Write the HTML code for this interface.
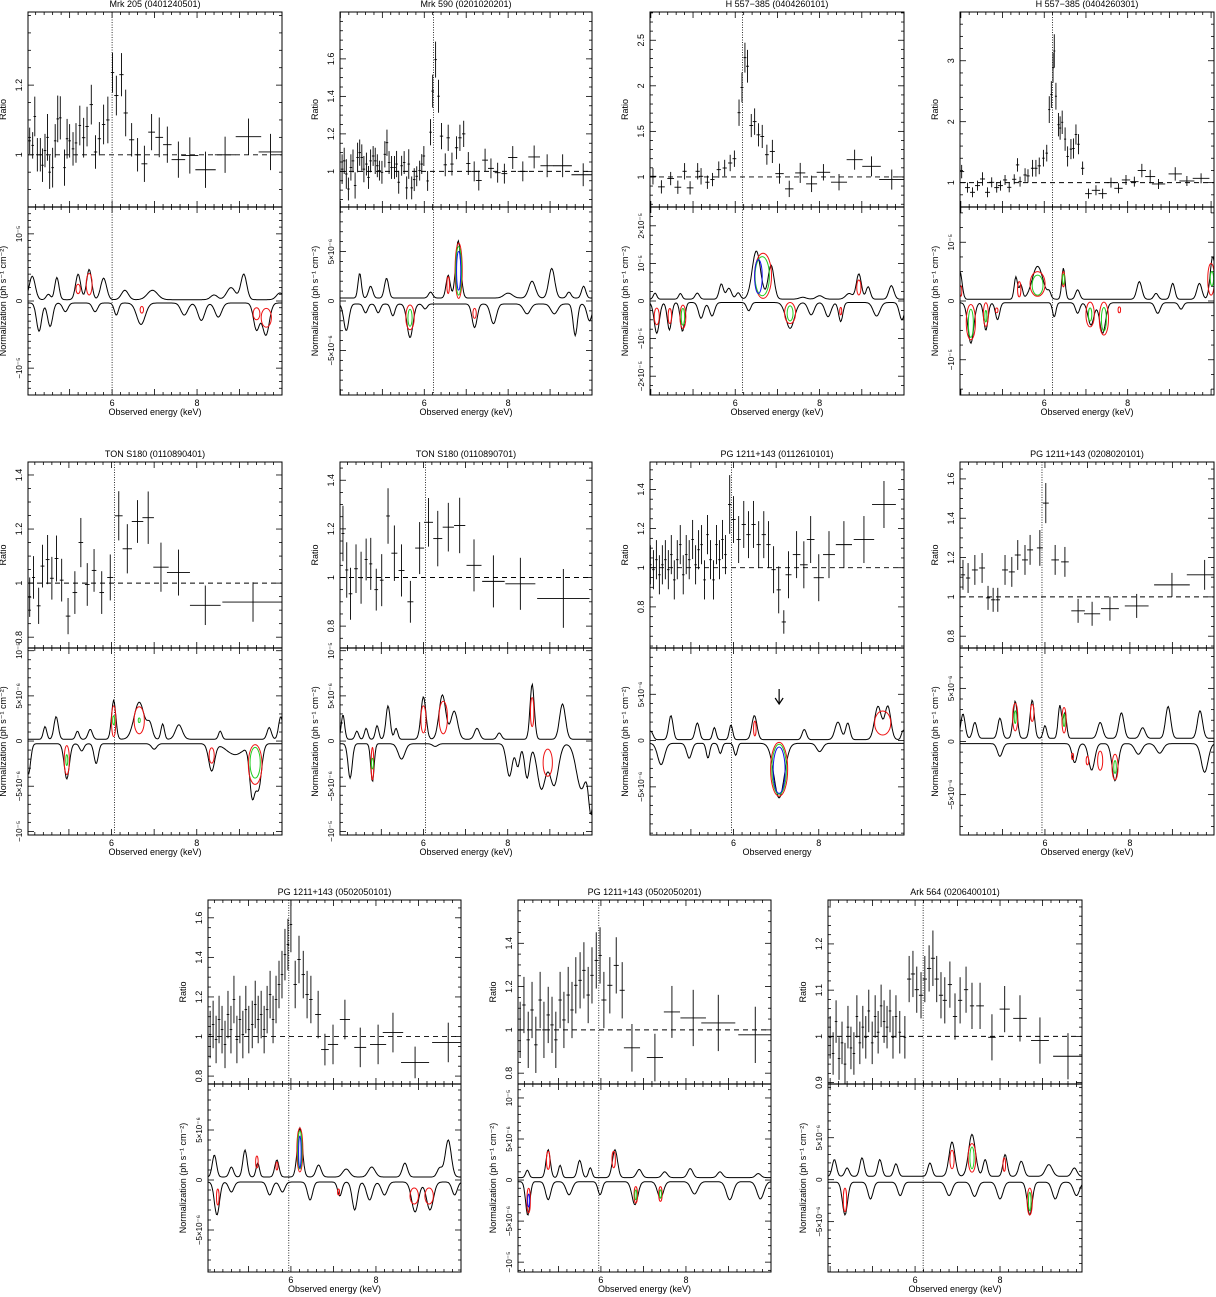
<!DOCTYPE html>
<html>
<head>
<meta charset="utf-8">
<style>
html,body{margin:0;padding:0;background:#fff;}
svg{display:block;font-family:"Liberation Sans",Arial,sans-serif;}
</style>
</head>
<body>
<svg id="fig" width="1216" height="1297" viewBox="0 0 1216 1297" xmlns="http://www.w3.org/2000/svg"></svg>
<script>
// ---------------- DATA ----------------
const titles = ["Mrk 205 (0401240501)","Mrk 590 (0201020201)","H 557\u2212385 (0404260101)","H 557\u2212385 (0404260301)",
"TON S180 (0110890401)","TON S180 (0110890701)","PG 1211+143 (0112610101)","PG 1211+143 (0208020101)",
"PG 1211+143 (0502050101)","PG 1211+143 (0502050201)","Ark 564 (0206400101)"];
const xLabels = ["Observed energy (keV)","Observed energy (keV)","Observed energy (keV)","Observed energy (keV)",
"Observed energy (keV)","Observed energy (keV)","Observed energy","Observed energy (keV)",
"Observed energy (keV)","Observed energy (keV)","Observed energy (keV)"];
const energyRanges = [[4.02,10.0],[3.99,10.0],[3.98,10.0],[3.98,10.07],[4.04,10.0],[4.02,10.0],[4.04,10.0],[4.0,9.98],[4.05,10.0],[4.05,10.0],[3.95,9.93]];
const energyTicks = [6,8];
const lineEnergies = [6.0,6.22,6.17,6.2,6.07,6.05,5.95,5.93,5.95,5.95,6.19];
const ratioRanges = [[0.85,1.41],[0.81,1.85],[0.67,2.81],[0.6,3.8],[0.76,1.448],[0.71,1.475],[0.59,1.54],[0.74,1.686],[0.76,1.69],[0.75,1.6],[0.897,1.295]];
const ratioTicks = [[1,1.2],[1,1.2,1.4,1.6],[1,1.5,2,2.5],[1,2,3],[0.8,1,1.2,1.4],[0.8,1,1.2,1.4],[0.8,1,1.2,1.4],[0.8,1,1.2,1.4,1.6],[0.8,1,1.2,1.4,1.6],[0.8,1,1.2,1.4],[0.9,1,1.1,1.2]];
const ratioMinor = [0.05,0.05,0.1,0.2,0.05,0.05,0.05,0.05,0.05,0.05,0.02];
const normRanges = [[-14,14],[-9.5,9.5],[-25,25],[-16,16],[-10.4,10.3],[-10.4,10.3],[-10.2,10],[-8.8,8.8],[-9.2,9.6],[-11.2,11.7],[-11,11.4]];
const normTickValues = [[10,0,-10],[5,0,-5],[20,10,0,-10,-20],[10,0,-10],[10,5,0,-5,-10],[10,5,0,-5,-10],[5,0,-5],[5,0,-5],[5,0,-5],[10,5,0,-5,-10],[5,0,-5]];
const normTickText = {"20":"2\u00d710\u207b\u2075","10":"10\u207b\u2075","5":"5\u00d710\u207b\u2076","0":"0","-5":"\u22125\u00d710\u207b\u2076","-10":"\u221210\u207b\u2075","-20":"\u22122\u00d710\u207b\u2075"};

// ratio points [E, ratio, dE, dRatio]
const points1 = [[4.06,1.04,.03,.038],[4.13,1.027,.03,.038],[4.18,1.11,.03,.057],[4.24,1.0,.03,.048],[4.31,1.0,.03,.048],[4.36,.97,.03,.048],[4.42,1.012,.03,.048],[4.48,1.05,.03,.067],[4.53,.95,.03,.048],[4.6,.963,.03,.057],[4.66,1.04,.03,.048],[4.72,1.103,.03,.067],[4.78,1.106,.03,.062],[4.88,.963,.03,.052],[4.94,1.046,.03,.057],[5.0,1.04,.03,.048],[5.08,1.017,.03,.048],[5.15,1.034,.03,.057],[5.24,1.084,.03,.057],[5.33,1.049,.04,.057],[5.41,1.081,.04,.057],[5.51,1.144,.04,.057],[5.61,1.008,.04,.048],[5.7,1.046,.04,.048],[5.8,1.087,.04,.057],[5.9,1.1,.04,.067],[6.01,1.236,.04,.057],[6.1,1.17,.05,.057],[6.22,1.23,.05,.062],[6.32,1.12,.05,.067],[6.46,1.043,.06,.048],[6.6,1.0,.07,.048],[6.76,.974,.07,.052],[6.93,1.065,.08,.052],[7.11,1.05,.09,.057],[7.3,1.029,.1,.052],[7.56,.986,.16,.052],[7.83,.998,.2,.052],[8.2,.957,.24,.052],[8.66,1.0,.24,.052],[9.21,1.052,.3,.052],[9.73,1.008,.28,.052]];
const points2 = [[4.04,1.012,.03,.079],[4.09,1.056,.03,.07],[4.14,.986,.03,.079],[4.19,.906,.03,.061],[4.25,1.021,.03,.07],[4.3,1.056,.03,.061],[4.35,.925,.03,.07],[4.41,1.074,.03,.079],[4.46,1.1,.03,.07],[4.51,1.074,.03,.07],[4.56,1.012,.03,.07],[4.62,1.039,.03,.061],[4.67,.968,.03,.061],[4.72,1.056,.03,.061],[4.78,1.082,.03,.053],[4.83,1.056,.03,.07],[4.88,1.03,.03,.061],[4.93,1.004,.03,.053],[4.99,.995,.03,.061],[5.06,1.091,.03,.07],[5.11,1.153,.03,.07],[5.16,1.047,.03,.061],[5.22,1.021,.03,.061],[5.29,1.021,.03,.061],[5.34,1.039,.03,.07],[5.39,.942,.03,.061],[5.46,1.03,.03,.053],[5.52,1.047,.03,.061],[5.58,.912,.03,.061],[5.63,1.039,.03,.079],[5.7,.912,.03,.061],[5.76,.956,.03,.061],[5.82,.974,.03,.053],[5.89,1.004,.03,.053],[5.94,1.039,.03,.053],[5.99,1.082,.03,.053],[6.08,.949,.03,.053],[6.15,1.209,.03,.07],[6.2,1.428,.03,.088],[6.27,1.596,.03,.096],[6.34,1.401,.03,.088],[6.41,1.188,.04,.07],[6.5,1.035,.04,.061],[6.57,1.179,.04,.07],[6.66,1.039,.04,.061],[6.77,1.126,.04,.061],[6.85,1.179,.04,.07],[6.94,1.2,.04,.07],[7.05,1.042,.05,.061],[7.19,1.0,.07,.053],[7.3,.951,.07,.053],[7.45,1.06,.07,.061],[7.59,1.016,.07,.053],[7.75,.993,.07,.053],[7.91,.988,.07,.053],[8.11,1.074,.11,.061],[8.35,1.0,.12,.053],[8.62,1.077,.14,.061],[8.93,1.03,.16,.061],[9.3,1.03,.22,.061],[9.79,.982,.28,.061]];
const points3 = [[4.05,1.007,.08,.09],[4.25,.891,.08,.073],[4.47,.982,.08,.073],[4.64,.887,.08,.073],[4.8,1.062,.05,.09],[4.93,.88,.08,.073],[5.11,1.062,.05,.09],[5.19,1.007,.05,.09],[5.34,.942,.05,.073],[5.46,.971,.05,.073],[5.61,1.08,.05,.09],[5.75,1.098,.05,.09],[5.88,1.153,.05,.09],[5.98,1.2,.045,.09],[6.09,1.705,.035,.145],[6.16,1.982,.035,.164],[6.23,2.309,.035,.164],[6.29,2.215,.035,.18],[6.38,1.564,.045,.127],[6.46,1.607,.045,.145],[6.55,1.462,.045,.127],[6.64,1.444,.045,.127],[6.75,1.244,.045,.11],[6.88,1.28,.06,.127],[7.05,1.036,.1,.11],[7.28,.869,.1,.09],[7.54,1.044,.12,.11],[7.81,.924,.13,.09],[8.09,1.051,.16,.09],[8.46,.942,.19,.09],[8.83,1.189,.19,.11],[9.23,1.116,.22,.11],[9.71,.971,.3,.11]];
const points4 = [[4.02,1.181,.06,.11],[4.16,.918,.06,.082],[4.28,.841,.06,.082],[4.4,.951,.06,.082],[4.52,1.06,.06,.11],[4.64,.841,.06,.082],[4.74,1.005,.06,.082],[4.86,.918,.06,.082],[4.95,.951,.06,.082],[5.06,1.044,.05,.082],[5.16,.923,.05,.082],[5.28,1.055,.05,.082],[5.36,1.291,.04,.11],[5.42,1.016,.04,.082],[5.54,1.126,.04,.11],[5.61,1.11,.04,.11],[5.72,1.236,.04,.137],[5.8,1.236,.04,.137],[5.88,1.275,.04,.137],[5.98,1.401,.03,.137],[6.06,1.484,.03,.137],[6.12,2.198,.025,.22],[6.17,2.445,.025,.22],[6.21,2.885,.025,.247],[6.24,3.16,.025,.275],[6.28,2.418,.025,.22],[6.34,1.951,.025,.192],[6.38,1.896,.025,.192],[6.43,1.99,.025,.192],[6.5,1.714,.025,.192],[6.56,1.43,.03,.165],[6.64,1.55,.03,.165],[6.7,1.56,.03,.165],[6.76,1.79,.03,.165],[6.82,1.63,.03,.165],[6.92,1.236,.04,.11],[7.06,.819,.08,.082],[7.24,.874,.1,.082],[7.4,.819,.1,.082],[7.6,1.0,.1,.082],[7.78,.907,.1,.082],[7.96,1.044,.1,.082],[8.16,1.016,.1,.082],[8.34,1.198,.1,.11],[8.54,1.099,.12,.11],[8.74,.978,.16,.082],[9.14,1.143,.16,.11],[9.42,1.027,.18,.082],[9.76,1.071,.2,.082]];
const points5 = [[4.08,.948,.036,.073],[4.17,1.021,.036,.079],[4.29,.916,.045,.067],[4.38,1.063,.045,.079],[4.5,1.087,.045,.091],[4.6,1.018,.045,.079],[4.71,1.091,.045,.085],[4.83,1.011,.045,.079],[4.98,.878,.054,.067],[5.14,.965,.054,.079],[5.28,1.15,.054,.091],[5.43,.995,.054,.079],[5.59,1.047,.054,.079],[5.77,.965,.054,.079],[5.97,1.021,.072,.085],[6.17,1.249,.09,.091],[6.37,1.127,.11,.091],[6.61,1.228,.135,.079],[6.86,1.242,.135,.097],[7.16,1.059,.18,.091],[7.57,1.039,.27,.085],[8.2,.918,.36,.073],[9.32,.93,.72,.073]];
const points6 = [[4.09,1.181,.036,.114],[4.18,1.031,.036,.114],[4.27,.933,.044,.107],[4.4,1.036,.044,.1],[4.52,.999,.044,.107],[4.64,1.074,.036,.086],[4.75,1.056,.036,.107],[4.88,.95,.044,.086],[5.01,.989,.044,.107],[5.16,1.253,.044,.114],[5.31,1.1,.071,.114],[5.48,1.029,.071,.107],[5.69,.9,.071,.086],[5.91,1.121,.107,.107],[6.12,1.227,.107,.1],[6.34,1.16,.107,.114],[6.59,1.207,.133,.1],[6.86,1.214,.133,.114],[7.2,1.05,.178,.107],[7.66,.984,.267,.107],[8.3,.974,.356,.107],[9.32,.914,.622,.121]];
const points7 = [[4.05,1.015,.03,.1],[4.12,.99,.03,.1],[4.19,1.041,.03,.1],[4.26,.964,.03,.1],[4.33,1.015,.03,.1],[4.4,1.041,.03,.1],[4.47,.99,.03,.1],[4.54,1.067,.03,.1],[4.61,.938,.03,.1],[4.68,1.041,.03,.1],[4.75,1.118,.03,.1],[4.82,.964,.03,.1],[4.89,1.067,.03,.1],[4.96,1.041,.03,.1],[5.04,1.144,.03,.1],[5.11,1.015,.03,.1],[5.18,1.092,.03,.1],[5.25,1.118,.03,.1],[5.32,.938,.03,.1],[5.39,1.169,.03,.1],[5.46,1.041,.03,.1],[5.53,.938,.03,.1],[5.6,1.118,.03,.1],[5.67,1.041,.03,.1],[5.74,1.144,.03,.1],[5.81,1.067,.03,.1],[5.91,1.323,.04,.15],[6.0,1.246,.05,.12],[6.12,1.144,.05,.12],[6.24,1.221,.05,.12],[6.35,1.169,.05,.12],[6.47,1.221,.05,.12],[6.59,1.118,.05,.12],[6.71,1.169,.05,.12],[6.82,1.118,.05,.12],[6.94,.99,.05,.12],[7.06,.887,.05,.12],[7.18,.723,.05,.06],[7.29,.964,.07,.12],[7.48,1.067,.09,.12],[7.65,1.015,.09,.12],[7.81,1.144,.09,.12],[8.0,.949,.12,.12],[8.24,1.067,.14,.12],[8.59,1.118,.19,.12],[9.06,1.144,.24,.12],[9.53,1.323,.28,.12]];
const points8 = [[4.07,1.112,.05,.076],[4.19,1.096,.05,.076],[4.35,1.137,.07,.076],[4.52,1.147,.07,.076],[4.66,.995,.05,.061],[4.78,.985,.05,.061],[4.89,.985,.05,.061],[5.06,1.137,.07,.076],[5.22,1.127,.07,.076],[5.36,1.213,.07,.076],[5.53,1.188,.07,.076],[5.65,1.239,.07,.076],[5.88,1.249,.07,.091],[6.02,1.477,.07,.102],[6.24,1.188,.09,.076],[6.47,1.178,.09,.076],[6.78,.929,.16,.061],[7.11,.914,.19,.061],[7.53,.94,.21,.061],[8.16,.954,.28,.061],[8.99,1.061,.42,.061],[9.76,1.112,.42,.076]];
const points9 = [[4.1,1.01,.03,.12],[4.17,1.061,.03,.12],[4.24,.985,.03,.12],[4.31,1.086,.03,.12],[4.38,1.035,.03,.12],[4.45,.96,.03,.12],[4.52,1.111,.03,.12],[4.59,1.035,.03,.12],[4.66,1.187,.03,.12],[4.73,.985,.03,.12],[4.8,1.086,.03,.12],[4.87,1.01,.03,.12],[4.94,1.136,.03,.12],[5.01,1.035,.03,.12],[5.09,1.061,.03,.12],[5.16,1.162,.03,.12],[5.23,1.086,.03,.12],[5.3,1.111,.03,.12],[5.37,1.035,.03,.12],[5.44,1.136,.03,.12],[5.51,1.212,.03,.12],[5.58,1.086,.03,.12],[5.65,1.187,.03,.12],[5.72,1.263,.03,.12],[5.79,1.313,.03,.12],[5.86,1.414,.03,.13],[5.93,1.465,.03,.13],[6.0,1.566,.03,.14],[6.1,1.263,.04,.12],[6.19,1.389,.04,.12],[6.29,1.313,.04,.12],[6.38,1.212,.04,.12],[6.47,1.187,.04,.12],[6.64,1.111,.07,.12],[6.8,.934,.09,.08],[6.99,.96,.12,.1],[7.27,1.086,.12,.1],[7.63,.945,.14,.1],[8.05,.96,.19,.1],[8.4,1.02,.24,.1],[8.92,.869,.33,.08],[9.7,.97,.38,.1]];
const points10 = [[4.1,1.0,.04,.13],[4.19,1.115,.04,.13],[4.29,.954,.04,.13],[4.38,1.092,.04,.13],[4.47,.931,.04,.13],[4.57,1.138,.04,.13],[4.66,1.0,.04,.13],[4.76,1.069,.04,.13],[4.85,1.023,.04,.13],[4.94,.954,.04,.13],[5.04,1.138,.04,.13],[5.13,1.046,.04,.13],[5.23,1.161,.04,.13],[5.32,1.092,.04,.13],[5.41,1.206,.04,.13],[5.51,1.229,.04,.13],[5.6,1.275,.04,.13],[5.7,1.161,.04,.13],[5.79,1.252,.04,.13],[5.89,1.321,.04,.13],[5.98,1.344,.04,.13],[6.07,1.138,.06,.13],[6.21,1.206,.06,.13],[6.36,1.298,.06,.13],[6.5,1.183,.06,.13],[6.73,.917,.19,.11],[7.27,.872,.19,.11],[7.67,1.083,.19,.12],[8.17,1.055,.3,.13],[8.76,1.032,.4,.13],[9.63,.977,.4,.13]];
const points11 = [[4.0,.998,.03,.046],[4.07,.963,.03,.046],[4.14,1.032,.03,.046],[4.21,.952,.03,.046],[4.28,.986,.03,.046],[4.35,.94,.03,.046],[4.42,1.02,.03,.046],[4.49,.975,.03,.046],[4.56,.963,.03,.046],[4.63,1.043,.03,.046],[4.7,.986,.03,.046],[4.77,1.02,.03,.046],[4.84,.998,.03,.046],[4.91,1.055,.03,.046],[4.99,.986,.03,.046],[5.06,1.043,.03,.046],[5.13,1.009,.03,.046],[5.2,1.066,.03,.046],[5.27,1.032,.03,.046],[5.34,1.02,.03,.046],[5.41,1.055,.03,.046],[5.48,.998,.03,.046],[5.55,1.043,.03,.046],[5.64,1.009,.03,.046],[5.76,.998,.03,.046],[5.86,1.124,.05,.05],[5.95,1.135,.05,.05],[6.04,1.101,.05,.05],[6.14,1.089,.05,.05],[6.23,1.124,.05,.05],[6.33,1.147,.05,.05],[6.42,1.169,.05,.06],[6.51,1.124,.05,.05],[6.61,1.089,.05,.05],[6.7,1.078,.05,.05],[6.82,1.112,.05,.05],[6.94,1.043,.05,.05],[7.06,1.078,.05,.05],[7.2,1.101,.05,.05],[7.34,1.066,.05,.05],[7.53,1.066,.09,.05],[7.81,.998,.09,.05],[8.11,1.059,.12,.05],[8.47,1.039,.16,.05],[8.94,.991,.21,.05],[9.6,.957,.35,.05]];
const allPoints = [points1,points2,points3,points4,points5,points6,points7,points8,points9,points10,points11];

// envelope peaks [E, height(1e-6), width keV]
const upperBase = [0.2,0.3,0.5,0.3,0.2,0.2,0.1,0.3,0.3,0.3,0.4];
const lowerBase = [-0.3,-0.3,-0.4,-0.3,-0.3,-0.3,-0.3,-0.2,-0.2,-0.2,-0.3];
const upper1 = [[4.12,3.5,.07],[4.5,0.8,.05],[4.7,3.3,.05],[5.2,3.8,.06],[5.46,4.5,.06],[5.8,3.2,.07],[6.3,1.4,.08],[6.95,1.4,.12],[8.4,0.7,.08],[8.8,1.8,.1],[9.1,3.8,.07],[9.95,1.0,.08]];
const lower1 = [[4.28,4.2,.06],[4.54,3.5,.06],[4.9,1.3,.06],[5.6,1.3,.06],[6.1,1.8,.05],[6.68,3.2,.1],[7.7,1.8,.08],[8.1,2.6,.08],[8.5,2.1,.08],[9.4,4.0,.07],[9.62,4.8,.08]];
const upper2 = [[4.46,2.5,.04],[4.72,1.2,.05],[5.1,2.0,.05],[6.15,0.6,.05],[6.57,2.3,.05],[6.81,5.8,.06],[8.0,0.5,.1],[8.57,1.7,.08],[9.04,3.0,.07],[9.45,0.6,.05],[9.8,1.2,.05]];
const lower2 = [[4.14,2.7,.06],[4.6,0.9,.05],[4.9,0.9,.05],[5.25,1.2,.05],[5.66,3.4,.07],[6.02,0.5,.05],[7.2,2.4,.06],[7.65,2.0,.07],[8.45,1.0,.08],[9.1,1.0,.08],[9.6,3.2,.05],[9.94,1.7,.06]];
const upper3 = [[4.1,1.6,.04],[4.7,1.5,.04],[5.1,1.6,.05],[5.67,4.0,.05],[5.85,2.9,.06],[6.07,1.7,.05],[6.5,12.8,.1],[6.85,9.0,.07],[7.6,0.5,.08],[8.0,0.9,.08],[8.7,1.5,.08],[8.93,6.7,.06],[9.15,3.3,.05],[9.7,3.6,.06]];
const lower3 = [[4.14,8.2,.06],[4.44,7.3,.05],[4.75,7.7,.05],[5.19,4.2,.06],[5.45,3.6,.06],[6.32,2.2,.05],[7.3,6.9,.1],[7.8,3.3,.07],[8.2,3.8,.07],[8.5,5.1,.05],[9.35,3.6,.08],[9.95,4.6,.06]];
const upper4 = [[3.98,4.7,.05],[5.32,3.8,.04],[5.44,2.4,.04],[5.84,5.6,.13],[6.12,1.0,.04],[6.46,5.3,.04],[6.8,1.6,.05],[8.28,3.0,.06],[8.68,1.0,.05],[9.08,2.7,.05],[9.72,2.7,.06],[10.04,7.3,.06]];
const lower4 = [[4.24,6.9,.07],[4.6,4.7,.05],[4.88,2.9,.05],[6.24,2.4,.04],[6.8,1.8,.05],[7.12,3.8,.07],[7.4,5.2,.07],[8.72,1.8,.06],[9.28,1.1,.05]];
const upper5 = [[4.44,1.4,.04],[4.7,2.5,.05],[5.2,0.9,.04],[5.5,1.1,.05],[6.05,4.3,.05],[6.65,4.1,.12],[6.9,1.5,.06],[7.2,1.7,.04],[7.58,1.6,.08],[8.55,0.9,.04],[9.7,1.3,.05],[9.97,2.5,.05]];
const lower5 = [[4.05,3.4,.05],[4.95,3.9,.06],[5.3,0.8,.05],[5.64,2.2,.05],[7.0,0.6,.06],[8.35,3.0,.07],[8.9,1.2,.2],[9.3,5.5,.06],[9.45,4.9,.07]];
const upper6 = [[4.09,2.7,.04],[4.42,0.9,.04],[4.64,1.2,.04],[4.9,1.5,.04],[5.16,3.7,.05],[5.35,1.2,.04],[6.0,4.7,.06],[6.45,4.9,.08],[6.73,3.1,.08],[7.27,1.2,.06],[7.8,0.7,.05],[8.58,6.1,.05],[9.3,3.9,.07]];
const lower6 = [[4.26,3.8,.05],[4.79,4.2,.04],[5.48,1.7,.08],[6.28,0.3,.06],[8.04,3.6,.07],[8.24,2.5,.05],[8.46,3.8,.06],[8.8,5.0,.1],[9.1,4.6,.1],[9.75,5.0,.12],[9.98,7.0,.06]];
const upper7 = [[4.06,0.9,.05],[4.53,2.6,.05],[5.15,1.8,.05],[5.55,1.3,.04],[5.94,1.6,.04],[6.49,2.6,.06],[7.66,1.1,.05],[8.45,1.9,.07],[8.68,1.8,.05],[9.39,3.6,.08],[9.62,3.6,.07],[9.98,1.0,.04]];
const lower7 = [[4.3,2.3,.08],[4.96,1.6,.06],[5.4,1.6,.04],[5.69,1.1,.04],[6.05,1.3,.04],[7.07,5.9,.12],[8.02,0.9,.07]];
const upper8 = [[4.07,2.3,.05],[4.35,1.5,.05],[4.94,1.9,.05],[5.3,3.5,.05],[5.7,3.6,.05],[6.0,1.2,.04],[6.35,3.1,.04],[6.47,2.4,.04],[7.3,1.5,.06],[7.8,2.4,.06],[8.3,1.0,.06],[8.9,3.0,.06],[9.65,2.6,.06]];
const lower8 = [[4.94,1.2,.06],[6.7,1.8,.06],[7.1,2.5,.07],[7.65,3.5,.07],[8.2,1.0,.08],[8.7,0.9,.08],[9.76,2.7,.08]];
const upper9 = [[4.2,2.2,.05],[4.6,1.0,.05],[4.92,2.7,.05],[5.22,1.4,.04],[5.67,1.7,.05],[6.21,4.9,.06],[6.65,1.2,.06],[7.3,0.8,.08],[7.9,1.0,.08],[8.68,1.4,.06],[9.5,0.9,.06],[9.7,3.7,.07]];
const lower9 = [[4.26,3.3,.06],[4.6,1.0,.06],[5.5,1.3,.06],[5.8,1.0,.06],[6.45,1.8,.06],[7.15,1.4,.05],[7.5,2.8,.06],[7.85,1.8,.07],[8.2,1.3,.07],[8.92,3.0,.08],[9.27,2.8,.08],[9.85,1.3,.06]];
const upper10 = [[4.27,0.9,.04],[4.76,3.4,.05],[5.04,1.5,.04],[5.5,2.1,.05],[5.75,1.2,.04],[6.33,3.4,.06],[6.9,1.0,.06],[7.5,0.7,.06],[8.1,1.1,.06],[8.8,0.7,.06],[9.7,0.5,.06]];
const lower10 = [[4.28,4.1,.05],[4.76,2.2,.06],[5.25,1.6,.07],[5.98,1.6,.05],[6.8,2.8,.07],[7.4,2.0,.07],[8.2,1.5,.08],[9.03,2.2,.08],[9.75,2.1,.08]];
const upper11 = [[4.1,2.0,.05],[4.4,1.0,.05],[4.75,2.2,.05],[5.17,2.0,.05],[5.55,1.5,.05],[6.35,1.6,.05],[6.87,4.1,.07],[7.34,5.0,.08],[7.65,2.0,.05],[8.12,2.6,.05],[8.5,1.8,.06],[9.15,1.4,.08],[9.75,1.0,.06]];
const lower11 = [[4.35,3.9,.06],[4.95,2.0,.06],[5.65,1.6,.06],[6.8,1.6,.07],[7.4,1.7,.07],[8.0,2.0,.07],[8.7,3.9,.06],[9.3,2.0,.07],[9.8,1.6,.07]];
const allUpper = [upper1,upper2,upper3,upper4,upper5,upper6,upper7,upper8,upper9,upper10,upper11];
const allLower = [lower1,lower2,lower3,lower4,lower5,lower6,lower7,lower8,lower9,lower10,lower11];

// contours [E, centre(1e-6), half-width keV, half-height(1e-6), colour]
const contours1 = [[5.2,1.8,.05,.7,'r'],[5.46,2.5,.07,1.6,'r'],[6.7,-1.3,.04,.5,'r'],[9.4,-1.9,.08,.9,'r'],[9.63,-2.5,.12,1.4,'r']];
const contours2 = [[6.82,3.06,.085,2.8,'r'],[6.82,3.05,.07,2.45,'g'],[6.82,3.05,.05,1.95,'b'],[6.57,1.6,.03,.85,'r'],[5.66,-1.65,.1,1.25,'r'],[5.66,-1.7,.05,.85,'g'],[7.2,-1.25,.04,.5,'r']];
const contours3 = [[6.66,6.7,.2,6.0,'r'],[6.64,6.6,.17,5.2,'g'],[6.55,6.5,.09,4.5,'b'],[8.93,3.6,.05,2.0,'r'],[4.14,-4.1,.06,2.2,'r'],[4.45,-4.0,.04,2.0,'r'],[4.76,-4.2,.07,3.1,'r'],[4.76,-4.2,.04,2.2,'g'],[7.3,-3.2,.13,2.8,'r'],[7.3,-3.3,.07,2.0,'g'],[8.5,-2.7,.02,1.0,'r']];
const contours4 = [[5.4,2.0,.04,1.3,'r'],[5.84,2.9,.18,2.1,'r'],[5.84,2.7,.13,1.7,'g'],[6.46,3.7,.03,1.3,'r'],[6.46,3.7,.015,.9,'g'],[10.0,3.7,.08,2.7,'r'],[10.02,3.8,.04,1.2,'g'],[4.0,1.7,.02,.9,'r'],[4.24,-3.6,.11,3.0,'r'],[4.24,-3.8,.06,2.4,'g'],[4.6,-2.3,.06,2.0,'r'],[4.6,-2.6,.02,1.0,'g'],[4.86,-1.6,.03,.4,'r'],[7.1,-2.3,.1,2.1,'r'],[7.1,-2.3,.04,1.1,'g'],[7.43,-3.0,.11,2.8,'r'],[7.43,-3.1,.06,2.0,'g'],[7.8,-1.5,.03,.5,'r']];
const contours5 = [[6.05,2.2,.05,1.7,'r'],[6.05,2.3,.012,.5,'g'],[6.65,2.3,.12,1.5,'r'],[6.65,2.3,.02,.25,'g'],[4.95,-2.1,.06,1.6,'r'],[4.95,-2.1,.012,.6,'g'],[8.35,-1.6,.06,.85,'r'],[9.37,-2.6,.16,2.2,'r'],[9.37,-2.4,.12,1.7,'g']];
const contours6 = [[6.0,2.4,.06,1.5,'r'],[6.47,2.6,.1,1.8,'r'],[8.58,3.2,.04,1.6,'r'],[4.79,-2.5,.03,1.8,'r'],[4.79,-2.5,.01,.6,'g'],[8.95,-2.4,.11,1.5,'r']];
const contours7 = [[6.5,1.3,.03,.8,'r'],[9.5,1.9,.19,1.3,'r'],[7.07,-3.1,.2,2.9,'r'],[7.07,-3.1,.17,2.7,'g'],[7.07,-3.2,.14,2.5,'b']];
const contours8 = [[5.3,2.3,.06,1.3,'r'],[5.3,2.3,.02,.6,'g'],[5.7,2.7,.04,.8,'r'],[6.45,2.0,.05,1.2,'r'],[6.45,2.0,.02,.6,'g'],[6.65,-1.4,.02,.3,'r'],[7.0,-1.8,.03,.4,'r'],[7.3,-1.8,.06,.9,'r'],[7.65,-2.4,.07,1.2,'r'],[7.65,-2.4,.03,.6,'g']];
const contours9 = [[6.21,3.0,.07,2.2,'r'],[6.21,3.0,.05,1.9,'g'],[6.21,2.8,.03,1.6,'b'],[5.2,1.8,.03,.6,'r'],[5.67,1.4,.02,.4,'r'],[4.28,-1.7,.03,.8,'r'],[7.12,-1.2,.02,.3,'r'],[8.9,-1.6,.1,.8,'r'],[9.25,-1.6,.1,.8,'r']];
const contours10 = [[4.76,2.4,.04,1.1,'r'],[6.3,2.5,.04,1.0,'r'],[4.3,-2.5,.04,1.5,'r'],[4.3,-2.5,.015,.8,'b'],[6.82,-1.8,.04,1.0,'r'],[6.82,-1.8,.02,.6,'g'],[7.4,-1.7,.04,.9,'r'],[7.4,-1.7,.02,.5,'g']];
const contours11 = [[6.87,2.4,.05,1.1,'r'],[7.34,2.6,.09,1.7,'r'],[7.34,2.6,.05,1.3,'g'],[8.1,1.8,.03,.8,'r'],[4.35,-2.4,.04,1.4,'r'],[8.7,-2.6,.06,1.6,'r'],[8.7,-2.6,.03,1.1,'g']];
const allContours = [contours1,contours2,contours3,contours4,contours5,contours6,contours7,contours8,contours9,contours10,contours11];
const arrowPanel = 6, arrowEnergy = 7.07;

// ---------------- LAYOUT ----------------
const boxes = [
 {x0:28,x1:282,top:12,mid:207,bot:395},{x0:340,x1:592,top:12,mid:207,bot:395},{x0:650,x1:904,top:12,mid:207,bot:395},{x0:960,x1:1214,top:12,mid:207,bot:395},
 {x0:28,x1:282,top:462,mid:648,bot:835},{x0:340,x1:592,top:462,mid:648,bot:835},{x0:650,x1:904,top:462,mid:648,bot:835},{x0:960,x1:1214,top:462,mid:648,bot:835},
 {x0:208,x1:461,top:900,mid:1084,bot:1272},{x0:518,x1:771,top:900,mid:1084,bot:1272},{x0:828,x1:1082,top:900,mid:1084,bot:1272}];
const COL = {r:'#ee1111', g:'#22cc22', b:'#1111ee'};
const NS = 'http://www.w3.org/2000/svg';
const svg = document.getElementById('fig');
function el(tag, parent, attrs){ const e=document.createElementNS(NS,tag); for(const k in attrs) e.setAttribute(k,attrs[k]); parent.appendChild(e); return e; }
function fmt(v){ return (Math.round(v*100)/100).toString(); }

boxes.forEach((b,i)=>{
  const g = el('g', svg, {});
  
  
  const [e0,e1] = energyRanges[i];
  const X = e => b.x0 + (e-e0)/(e1-e0)*(b.x1-b.x0);
  const [r0,r1] = ratioRanges[i];
  const YR = r => b.mid - (r-r0)/(r1-r0)*(b.mid-b.top);
  const [n0,n1] = normRanges[i];
  const YN = n => b.bot - (n-n0)/(n1-n0)*(b.bot-b.mid);
  const cx = (b.x0+b.x1)/2;

  const t = el('text', g, {x:cx, y:b.top-5, 'font-size':9, 'text-anchor':'middle', fill:'#000'});
  t.textContent = titles[i];
  
  

  const cpU = el('clipPath', g, {id:'cu'+i}); el('rect', cpU, {x:b.x0, y:b.top, width:b.x1-b.x0, height:b.mid-b.top});
  const cpL = el('clipPath', g, {id:'cl'+i}); el('rect', cpL, {x:b.x0, y:b.mid, width:b.x1-b.x0, height:b.bot-b.mid});

  const tk = el('g', g, {stroke:'#000', 'stroke-width':0.8});
  
  
  for(let e=Math.ceil(e0*5)/5; e<=e1+1e-9; e+=0.2){
    const x=X(e); const major = Math.abs(e-Math.round(e))<1e-6;
    const L = major?6:3;
    [b.top,b.mid].forEach(y=>el('line',tk,{x1:x,y1:y,x2:x,y2:y+L}));
    [b.mid,b.bot].forEach(y=>el('line',tk,{x1:x,y1:y,x2:x,y2:y-L}));
  }
  energyTicks.forEach(e=>{
    const tl = el('text', g, {x:X(e), y:b.bot+11, 'font-size':9, 'text-anchor':'middle'});
    tl.textContent = e;
    
    
  });
  const xl = el('text', g, {x:cx, y:b.bot+20, 'font-size':9, 'text-anchor':'middle'});
  xl.textContent = xLabels[i];
  
  

  const ms = ratioMinor[i];
  for(let r=Math.ceil(r0/ms)*ms; r<=r1; r+=ms){
    const y=YR(r);
    const maj = ratioTicks[i].some(v=>Math.abs(v-r)<1e-6);
    const L = maj?6:3;
    el('line',tk,{x1:b.x0,y1:y,x2:b.x0+L,y2:y}); el('line',tk,{x1:b.x1,y1:y,x2:b.x1-L,y2:y});
  }
  ratioTicks[i].forEach(v=>{
    const y=YR(v);
    const tl = el('text', g, {x:b.x0-6, y:y, 'font-size':9, 'text-anchor':'middle', transform:`rotate(-90 ${b.x0-6} ${y})`});
    tl.textContent = fmt(v);
    
    
  });
  const ry = (b.top+b.mid)/2;
  const rl = el('text', g, {x:b.x0-22, y:ry, 'font-size':9, 'text-anchor':'middle', transform:`rotate(-90 ${b.x0-22} ${ry})`});
  rl.textContent = 'Ratio';
  
  

  const nstep = (n1-n0)>30 ? 2.5 : 1;
  for(let n=Math.ceil(n0/nstep)*nstep; n<=n1; n+=nstep){
    const y=YN(n);
    const maj = normTickValues[i].some(v=>Math.abs(v-n)<1e-6);
    const L = maj?6:3;
    el('line',tk,{x1:b.x0,y1:y,x2:b.x0+L,y2:y}); el('line',tk,{x1:b.x1,y1:y,x2:b.x1-L,y2:y});
  }
  normTickValues[i].forEach(v=>{
    const y=YN(v);
    const tl = el('text', g, {x:b.x0-6, y:y, 'font-size':8, 'text-anchor':'middle', transform:`rotate(-90 ${b.x0-6} ${y})`});
    tl.textContent = normTickText[String(v)];
    
    
  });
  const ny = (b.mid+b.bot)/2;
  const nl = el('text', g, {x:b.x0-22, y:ny, 'font-size':9, 'text-anchor':'middle', transform:`rotate(-90 ${b.x0-22} ${ny})`});
  nl.textContent = 'Normalization (ph s\u207b\u00b9 cm\u207b\u00b2)';
  
  

  const dl = el('line', g, {x1:b.x0, x2:b.x1, y1:YR(1), y2:YR(1), stroke:'#000', 'stroke-width':0.9, 'stroke-dasharray':'5,4'});
  
  

  const vx = X(lineEnergies[i]);
  const vl = el('line', g, {x1:vx, x2:vx, y1:b.top, y2:b.bot, stroke:'#000', 'stroke-width':0.8, 'stroke-dasharray':'1,1.5'});
  
  

  const pg = el('g', g, {stroke:'#000', 'stroke-width':0.9, 'clip-path':`url(#cu${i})`});
  
  
  allPoints[i].forEach(p=>{
    const [e,r,de,dr]=p;
    el('line',pg,{x1:X(e-de),x2:X(e+de),y1:YR(r),y2:YR(r)});
    el('line',pg,{x1:X(e),x2:X(e),y1:YR(r-dr),y2:YR(r+dr)});
  });

  const envG = el('g', g, {fill:'none', stroke:'#000', 'stroke-width':1.0, 'clip-path':`url(#cl${i})`});
  
  
  function curve(base, peaks, sign){
    let d='';
    for(let k=0;k<=300;k++){
      const e = e0 + (e1-e0)*k/300;
      let v = base;
      peaks.forEach(p=>{ v += sign*p[1]*Math.exp(-((e-p[0])**2)/(2*p[2]*p[2])); });
      d += (k?'L':'M')+X(e).toFixed(1)+','+YN(v).toFixed(1);
    }
    return d;
  }
  const up = el('path', envG, {d:curve(upperBase[i], allUpper[i], 1)});
  
  
  const lo = el('path', envG, {d:curve(lowerBase[i], allLower[i], -1)});
  
  

  const cg = el('g', g, {fill:'none', 'stroke-width':1.0, 'clip-path':`url(#cl${i})`});
  
  
  allContours[i].forEach(c=>{
    const [e,cy,hw,hh,col]=c;
    const rx = Math.max(1, X(e+hw)-X(e));
    const ryy = Math.max(1, YN(cy-hh)-YN(cy));
    const ell = el('ellipse', cg, {cx:X(e), cy:YN(cy), rx:rx, ry:ryy, stroke:COL[col]});
    
    
  });

  if(i===arrowPanel){
    const ax = X(arrowEnergy);
    const ag = el('g', g, {stroke:'#000', 'stroke-width':1.2, fill:'none'});
    
    
    el('line', ag, {x1:ax, x2:ax, y1:689, y2:703});
    el('path', ag, {d:`M${ax-4},698 L${ax},704 L${ax+4},698`});
  }

  const fr = el('g', g, {fill:'none', stroke:'#000', 'stroke-width':1});
  
  
  el('rect', fr, {x:b.x0, y:b.top, width:b.x1-b.x0, height:b.bot-b.top});
  el('line', fr, {x1:b.x0, x2:b.x1, y1:b.mid, y2:b.mid, 'stroke-width':1.3});
});
</script>
</body>
</html>
